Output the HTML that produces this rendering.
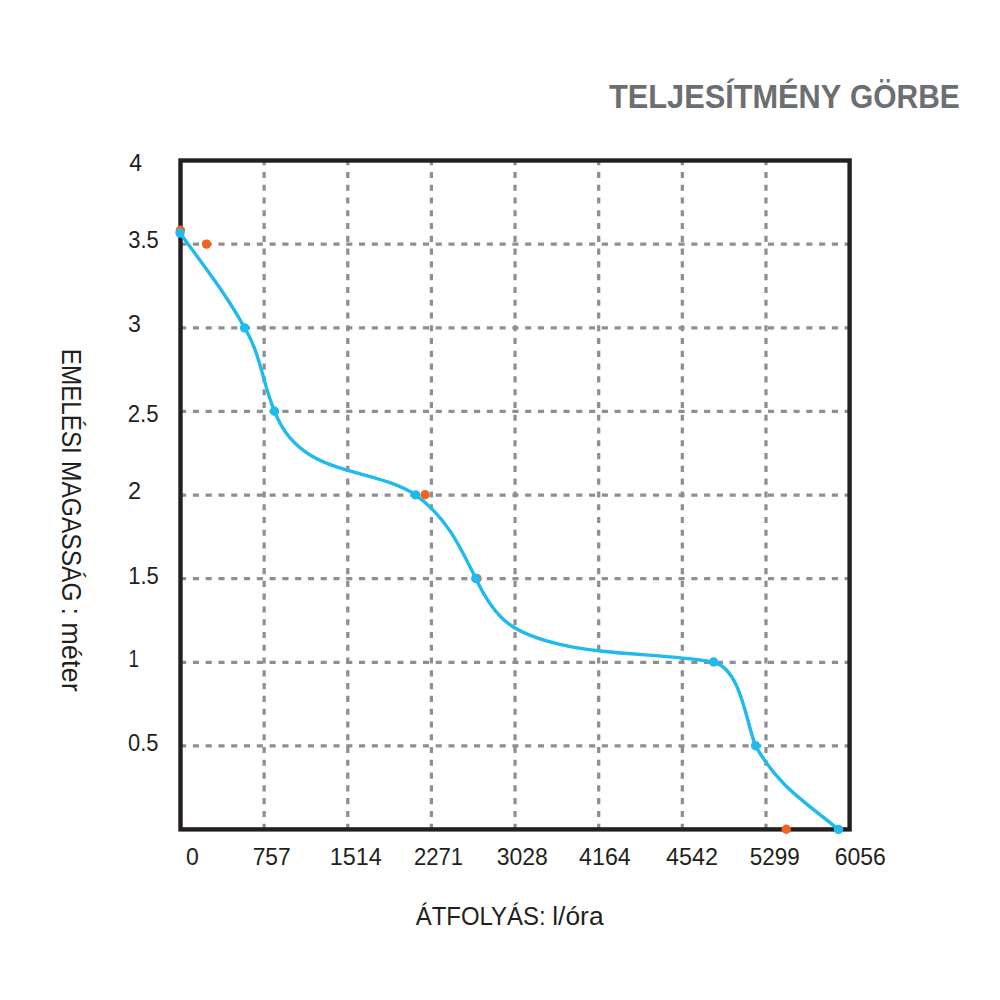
<!DOCTYPE html>
<html><head><meta charset="utf-8"><title>Teljesítmény görbe</title>
<style>
html,body{margin:0;padding:0;background:#fff;overflow:hidden;}
svg{display:block;}
text{font-family:"Liberation Sans",Arial,sans-serif;}
</style></head><body>
<svg width="1000" height="1000" viewBox="0 0 1000 1000">
<rect width="1000" height="1000" fill="#fff"/>
<g font-weight="bold" fill="#6d6e71" font-size="33.5"><text x="609.0" y="107.8" textLength="232.3" lengthAdjust="spacingAndGlyphs">TELJESÍTMÉNY</text> <text x="850.0" y="107.8" textLength="109.7" lengthAdjust="spacingAndGlyphs">GÖRBE</text></g>
<g stroke="#8f8f93" stroke-width="3.25" stroke-dasharray="6.1 6.68" fill="none">
<line x1="264.14" y1="159.1" x2="264.14" y2="829.4"/>
<line x1="347.77" y1="159.1" x2="347.77" y2="829.4"/>
<line x1="431.41" y1="159.1" x2="431.41" y2="829.4"/>
<line x1="515.05" y1="159.1" x2="515.05" y2="829.4"/>
<line x1="598.69" y1="159.1" x2="598.69" y2="829.4"/>
<line x1="682.33" y1="159.1" x2="682.33" y2="829.4"/>
<line x1="765.96" y1="159.1" x2="765.96" y2="829.4"/>
<line x1="180.1" y1="244.14" x2="849.6" y2="244.14"/>
<line x1="180.1" y1="327.77" x2="849.6" y2="327.77"/>
<line x1="180.1" y1="411.41" x2="849.6" y2="411.41"/>
<line x1="180.1" y1="495.05" x2="849.6" y2="495.05"/>
<line x1="180.1" y1="578.69" x2="849.6" y2="578.69"/>
<line x1="180.1" y1="662.33" x2="849.6" y2="662.33"/>
<line x1="180.1" y1="745.96" x2="849.6" y2="745.96"/>
</g>
<rect x="180.5" y="160.5" width="669.10" height="668.90" fill="none" stroke="#231f20" stroke-width="4.4"/>
<g fill="#f3621f">
<circle cx="180.4" cy="230.2" r="4.7"/>
<circle cx="206.5" cy="244.1" r="4.7"/>
<circle cx="425.1" cy="494.8" r="4.7"/>
<circle cx="477.0" cy="578.5" r="4.7"/>
<circle cx="786.3" cy="829.3" r="4.7"/>
</g>
<path d="M180.0 233.0C202.2 263.7 226.6 294.6 244.6 327.9C260.5 353.8 263.0 384.1 274.5 411.2C300.0 478.3 368.0 464.8 415.5 494.8C445.8 516.7 459.6 545.4 475.8 578.5C496.4 622.2 514.8 634.0 561.0 644.6C610.3 655.9 663.1 653.3 713.6 662.0C741.5 669.8 746.0 722.6 755.6 745.8C778.4 786.6 804.2 801.1 838.5 829.4" fill="none" stroke="#1fbaee" stroke-width="3.4" stroke-linecap="round" stroke-linejoin="round"/>
<g fill="#1fbaee">
<circle cx="180" cy="233" r="4.7"/>
<circle cx="244.6" cy="327.9" r="4.7"/>
<circle cx="274.5" cy="411.2" r="4.7"/>
<circle cx="415.6" cy="494.9" r="4.7"/>
<circle cx="475.8" cy="578.5" r="4.7"/>
<circle cx="713.6" cy="662" r="4.7"/>
<circle cx="755.6" cy="745.8" r="4.7"/>
<circle cx="838.5" cy="829.4" r="4.7"/>
</g>
<g fill="#231f20">
<text x="129.28" y="170.82" font-size="23" textLength="12.82" lengthAdjust="spacingAndGlyphs">4</text>
<text x="128.18" y="247.80" font-size="23" textLength="30.52" lengthAdjust="spacingAndGlyphs">3.5</text>
<text x="128.01" y="332.00" font-size="23" textLength="12.88" lengthAdjust="spacingAndGlyphs">3</text>
<text x="127.79" y="422.36" font-size="23" textLength="30.83" lengthAdjust="spacingAndGlyphs">2.5</text>
<text x="127.99" y="499.30" font-size="23" textLength="13.09" lengthAdjust="spacingAndGlyphs">2</text>
<text x="128.20" y="584.45" font-size="23" textLength="30.70" lengthAdjust="spacingAndGlyphs">1.5</text>
<text x="128.48" y="667.34" font-size="23" textLength="10.50" lengthAdjust="spacingAndGlyphs">1</text>
<text x="128.12" y="750.88" font-size="23" textLength="30.43" lengthAdjust="spacingAndGlyphs">0.5</text>
<text x="185.90" y="865.00" font-size="23" textLength="12.79" lengthAdjust="spacingAndGlyphs">0</text>
<text x="252.65" y="865.00" font-size="23" textLength="38.01" lengthAdjust="spacingAndGlyphs">757</text>
<text x="329.74" y="865.00" font-size="23" textLength="52.01" lengthAdjust="spacingAndGlyphs">1514</text>
<text x="413.91" y="865.00" font-size="23" textLength="49.20" lengthAdjust="spacingAndGlyphs">2271</text>
<text x="496.79" y="865.00" font-size="23" textLength="51.12" lengthAdjust="spacingAndGlyphs">3028</text>
<text x="579.09" y="865.00" font-size="23" textLength="51.69" lengthAdjust="spacingAndGlyphs">4164</text>
<text x="666.08" y="865.00" font-size="23" textLength="52.00" lengthAdjust="spacingAndGlyphs">4542</text>
<text x="749.69" y="865.00" font-size="23" textLength="50.03" lengthAdjust="spacingAndGlyphs">5299</text>
<text x="834.66" y="865.00" font-size="23" textLength="51.19" lengthAdjust="spacingAndGlyphs">6056</text>
</g>
<g font-size="25" fill="#231f20"><text x="415.76" y="924.8" textLength="129.88" lengthAdjust="spacingAndGlyphs">ÁTFOLYÁS:</text><text x="552.26" y="924.8" textLength="51.3" lengthAdjust="spacingAndGlyphs">l/óra</text></g>
<g font-size="26.8" fill="#231f20">
<text transform="translate(62.20,348.84) rotate(90)" textLength="104.93" lengthAdjust="spacingAndGlyphs">EMELÉSI</text>
<text transform="translate(62.20,461.02) rotate(90)" textLength="140.50" lengthAdjust="spacingAndGlyphs">MAGASSÁG</text>
<text transform="translate(62.20,607.50) rotate(90)" textLength="7.45" lengthAdjust="spacingAndGlyphs">:</text>
<text transform="translate(62.20,622.23) rotate(90)" textLength="69.47" lengthAdjust="spacingAndGlyphs">méter</text>
</g>
</svg>
</body></html>
